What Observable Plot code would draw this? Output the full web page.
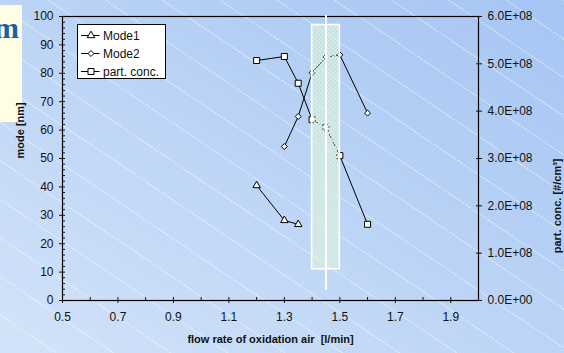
<!DOCTYPE html>
<html>
<head>
<meta charset="utf-8">
<script src="https://cdn.jsdelivr.net/npm/d3@7"></script>
<script src="https://cdn.jsdelivr.net/npm/@observablehq/plot@0.6"></script>
<style>
  html, body { margin: 0; padding: 0; }
  body {
    width: 564px; height: 353px; overflow: hidden; position: relative;
    background:
      repeating-linear-gradient(34deg, rgba(255,255,255,0) 0px, rgba(255,255,255,0) 31px, rgba(255,255,255,0.38) 31px, rgba(255,255,255,0.38) 32px),
      linear-gradient(to bottom left, #a5c5f3, #d3e3f9);
  }
  #title {
    position: absolute; left: 0; top: 5px; width: 22px; height: 117px;
    background: #fffde3; overflow: hidden;
  }
  #title span {
    position: absolute; right: 3px; top: 6px; line-height: 1;
    font: bold 30px "Liberation Serif", "Times New Roman", serif; color: #1b5ea6;
  }
  #chart { position: absolute; left: 0; top: 0; }
</style>
</head>
<body>
<div id="title"><span>m</span></div>
<div id="chart"></div>
<script>
// Flow rate of oxidation air [l/min] and the measured values per series
const flowMode1 = [1.2, 1.3, 1.35];
const mode1 = [40.5, 28.2, 26.8];                          // nm
const flowMode2 = [1.3, 1.35, 1.4, 1.45, 1.5, 1.6];
const mode2 = [54.2, 64.8, 80.2, 85.7, 86.5, 66.0];        // nm
const flowConc = [1.2, 1.3, 1.35, 1.4, 1.45, 1.5, 1.6];
const partConc = [5.07e8, 5.155e8, 4.59e8, 3.82e8, 3.66e8, 3.06e8, 1.61e8]; // #/cm³

const seriesNames = ["Mode1", "Mode2", "part. conc."];

// Highlighted operating window and its centre line
const bandFlow = [1.4, 1.5];
const bandMode = [11, 97];
const centreFlow = 1.45;
const centreMode = [3.5, 100.4];

// Axis ticks
const xMajor = [0.5, 0.7, 0.9, 1.1, 1.3, 1.5, 1.7, 1.9];
const xMinor = [0.6, 0.8, 1.0, 1.2, 1.4, 1.6, 1.8, 2.0];
const yMajor = [0, 10, 20, 30, 40, 50, 60, 70, 80, 90, 100];
const yMinor = [2, 4, 6, 8, 12, 14, 16, 18, 22, 24, 26, 28, 32, 34, 36, 38, 42, 44, 46, 48,
                52, 54, 56, 58, 62, 64, 66, 68, 72, 74, 76, 78, 82, 84, 86, 88, 92, 94, 96, 98];
const concTicks = [0, 1e8, 2e8, 3e8, 4e8, 5e8, 6e8];

const modeMax = 100, concMax = 6e8;
// concentration is drawn on the right-hand axis, sharing the mode scale
const toMode = v => v / concMax * modeMax;
const fromMode = v => v / modeMax * concMax;
const sci = v => {
  const [m, e] = v.toExponential(1).split("e");
  const n = +e;
  return m + "E" + (n < 0 ? "-" : "+") + String(Math.abs(n)).padStart(2, "0");
};

const symbols = {"Mode1": ["triangle", 2.8], "Mode2": ["diamond2", 2.7], "part. conc.": ["square", 3.4]};
const noText = () => "";
const lineStyle = {stroke: "#000", strokeWidth: 1};
const dotStyle = name => ({symbol: symbols[name][0], r: symbols[name][1], fill: "white", stroke: "#000", strokeWidth: 1});

const svg = Plot.plot({
  width: 564,
  height: 353,
  marginLeft: 62,
  marginRight: 86,
  marginTop: 16,
  marginBottom: 53,
  style: {background: "transparent", fontFamily: "'Liberation Sans', Arial, sans-serif", fontSize: "12px", color: "#111"},
  x: {domain: [0.5, 2.0]},
  y: {domain: [0, modeMax]},
  marks: [
    // series
    Plot.line(mode1, {x: flowMode1, y: mode1, ...lineStyle}),
    Plot.line(mode2, {x: flowMode2, y: mode2, ...lineStyle}),
    Plot.line(partConc, {x: flowConc, y: partConc.map(toMode), ...lineStyle}),
    Plot.dot(mode1, {x: flowMode1, y: mode1, ...dotStyle("Mode1")}),
    Plot.dot(mode2, {x: flowMode2, y: mode2, ...dotStyle("Mode2")}),
    Plot.dot(partConc, {x: flowConc, y: partConc.map(toMode), ...dotStyle("part. conc.")}),

    // operating window
    Plot.rect([{x1: bandFlow[0], x2: bandFlow[1], y1: bandMode[0], y2: bandMode[1]}],
      {x1: "x1", x2: "x2", y1: "y1", y2: "y2", fill: "url(#checker)", stroke: "white", strokeWidth: 1.6}),

    // frame and axes
    Plot.frame({stroke: "#000", strokeWidth: 1.2}),
    Plot.ruleX([{x: centreFlow, y1: centreMode[0], y2: centreMode[1]}], {x: "x", y1: "y1", y2: "y2", stroke: "white", strokeWidth: 2}),

    Plot.axisX(xMinor, {tickSize: 3, dy: -3, tickFormat: noText, label: null}),
    Plot.axisX(xMajor, {tickSize: 6, dy: -3, tickFormat: noText, label: null}),
    Plot.axisX(xMajor, {tickSize: 0, tickPadding: 12, tickFormat: d3.format(".1f"), label: null}),

    Plot.axisY(yMinor, {tickSize: 3, dx: 3, tickFormat: noText, label: null}),
    Plot.axisY(yMajor, {tickSize: 6, dx: 3, tickFormat: noText, label: null}),
    Plot.axisY(yMajor, {tickSize: 0, tickPadding: 9, label: null}),

    Plot.axisY(concTicks.map(toMode), {anchor: "right", tickSize: 6, dx: -3, tickFormat: noText, label: null}),
    Plot.axisY(concTicks.map(toMode), {anchor: "right", tickSize: 0, tickPadding: 9, tickFormat: d => sci(fromMode(d)), label: null}),

    // axis titles
    Plot.text(["mode [nm]"], {text: d => d, frameAnchor: "left", dx: -42, rotate: -90, fontWeight: "bold", fontSize: 11}),
    Plot.text(["part. conc. [#/cm³]"], {text: d => d, frameAnchor: "right", dx: 79, rotate: -90, fontWeight: "bold", fontSize: 11}),
    Plot.text(["flow rate of oxidation air\u00a0 [l/min]"], {text: d => d, frameAnchor: "bottom", dy: 42, fontWeight: "bold", fontSize: 11})
  ]
});

// checkered fill for the operating window
const defs = d3.select(svg).insert("defs", ":first-child");
const pat = defs.append("pattern").attr("id", "checker").attr("patternUnits", "userSpaceOnUse")
  .attr("width", 4).attr("height", 4);
pat.append("rect").attr("width", 4).attr("height", 4).attr("fill", "rgba(255,255,255,0.3)");
pat.append("rect").attr("width", 2).attr("height", 2).attr("fill", "#d2efd2");
pat.append("rect").attr("x", 2).attr("y", 2).attr("width", 2).attr("height", 2).attr("fill", "#d2efd2");

// legend box
const lg = d3.select(svg).append("g").attr("transform", "translate(77.5,24.5)");
lg.append("rect").attr("width", 88).attr("height", 54).attr("fill", "white").attr("stroke", "#000");
seriesNames.forEach((name, i) => {
  const cy = 11 + i * 18;
  lg.append("line").attr("x1", 3.5).attr("x2", 22).attr("y1", cy).attr("y2", cy).attr("stroke", "#000");
  const [sym, r] = symbols[name];
  const shape = {triangle: d3.symbolTriangle, diamond2: d3.symbolDiamond2, square: d3.symbolSquare}[sym];
  lg.append("path").attr("transform", `translate(13.5,${cy})`)
    .attr("d", d3.symbol(shape, Math.PI * r * r)())
    .attr("fill", "white").attr("stroke", "#000");
  lg.append("text").attr("x", 25.5).attr("y", cy).attr("dy", "0.35em")
    .attr("text-anchor", "start").attr("font-size", 12).attr("fill", "#111").text(name);
});

document.getElementById("chart").appendChild(svg);
</script>
</body>
</html>
